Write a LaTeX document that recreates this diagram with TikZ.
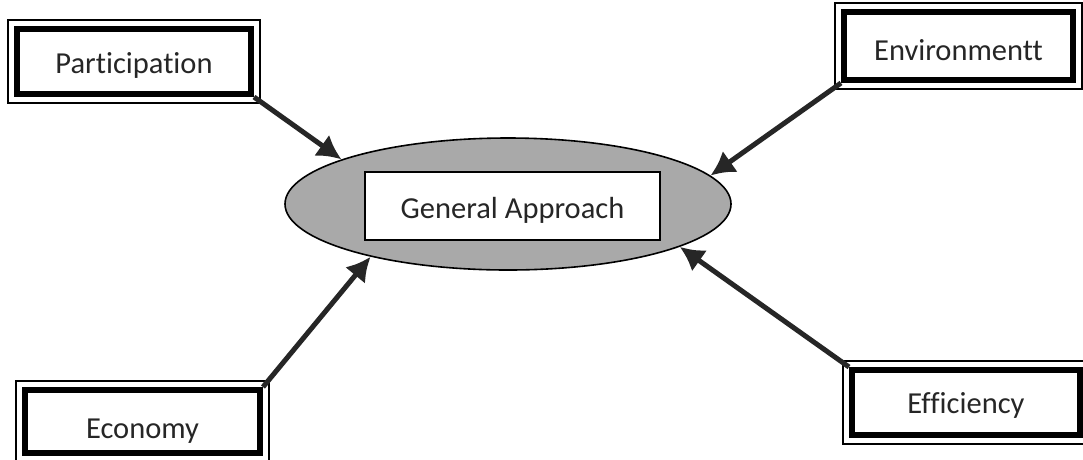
\documentclass[tikz,border=0pt]{standalone}
\usepackage{fontspec}
\setmainfont[Ligatures=NoCommon]{Carlito}
\usetikzlibrary{shapes.geometric,arrows.meta,calc}
\definecolor{ink}{HTML}{262626}
\definecolor{shade}{HTML}{A9A9A9}
\begin{document}
\begin{tikzpicture}[x=1pt,y=-1pt,
  label font/.style={font=\fontsize{30.5}{36}\selectfont, text=ink, text depth=0pt},
  factor/.style={draw=black, line width=6pt, fill=white, inner sep=0pt, label font},
  outerline/.style={draw=black, line width=1.4pt},
  hub/.style={ellipse, draw=black, line width=1.6pt, fill=shade, inner sep=0pt,
              minimum width=446pt, minimum height=132pt},
  core/.style={draw=black, line width=2pt, fill=white, inner sep=0pt,
               minimum width=295pt, minimum height=68pt, label font},
  feed/.style={line width=5pt, draw=ink, -{Latex[length=24pt,width=26pt]}}]
\useasboundingbox (0,0) rectangle (1083,459);
\fill[white] (0,0) rectangle (1083,459);

% central idea
\node[hub] (ga) at (508,204) {};
\node[core, text height=25.6pt] (core) at (512.5,206) {General Approach};

% the four factors
\node[factor, minimum width=234pt, minimum height=65pt, text height=24.6pt] (part) at (134,61.5) {Participation};
\node[factor, minimum width=229pt, minimum height=68pt, text height=29.6pt] (env) at (958.5,46) {Environmentt};
\node[factor, minimum width=235pt, minimum height=63pt, text height=33pt] (eco) at (142.5,421.5) {Economy};
\node[factor, minimum width=228pt, minimum height=65pt, text height=22.6pt] (eff) at (966,402.5) {Efficiency};

% thin outer frames
\foreach \n in {part,env,eco,eff}
  \draw[outerline] ($(\n.north west)+(-6,-6)$) rectangle ($(\n.south east)+(6,6)$);

% arrows into the centre
\draw[feed] (part.south east) -- (ga.165);
\draw[feed] (env.south west) -- (ga.8);
\draw[feed] (eco.north east) -- (ga.201);
\draw[feed] (eff.north west) -- (ga.-14);
\end{tikzpicture}
\end{document}
